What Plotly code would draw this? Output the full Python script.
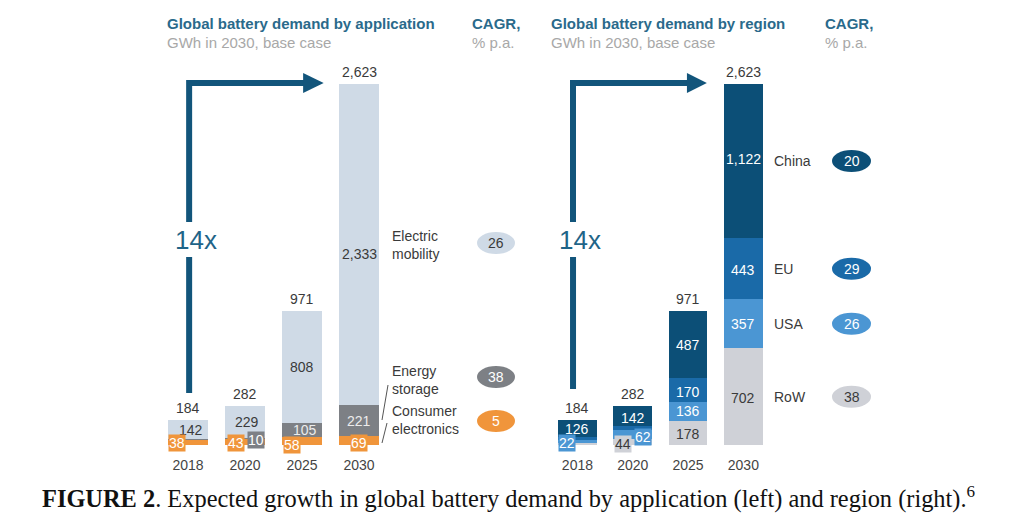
import plotly.graph_objects as go

# ---------------- data ----------------
years = ["2018", "2020", "2025", "2030"]
totals_app = [184, 282, 971, 2623]
totals_region = [184, 282, 971, 2623]

# Global battery demand by application, GWh
consumer_electronics = [38, 43, 58, 69]
energy_storage = [4, 10, 105, 221]
electric_mobility = [142, 229, 808, 2333]

# Global battery demand by region, GWh
row = [16, 44, 178, 702]
usa = [22, 62, 136, 357]
eu = [20, 34, 170, 443]
china = [126, 142, 487, 1122]

app_names = ["Consumer<br>electronics", "Energy<br>storage", "Electric<br>mobility"]
app_cagr = [5, 38, 26]
region_names = ["RoW", "USA", "EU", "China"]
region_cagr = [38, 26, 29, 20]
growth_text = "14x"

# ---------------- styles ----------------
W, H = 1024, 530
FONT = "Liberation Sans"
DARK = "#3a3a3a"
C_ORANGE = "#f0953b"
C_GRAY = "#7d8085"
C_LBLUE = "#cfdae6"
C_CHINA = "#0c4f77"
C_EU = "#1a6aa8"
C_USA = "#4b96d3"
C_ROW = "#cfd1d7"
C_ARROW = "#12557b"
C_TITLE = "#2a6a8b"
C_SUB = "#a8a8a8"
NUM = 14

BASE_PX = 445.0
SCALE = 361.0 / 2623.0  # px per GWh
YMAX = 3000
TOP_PX = BASE_PX - YMAX * SCALE


def px(x):
    return x / W


def py(y):
    return 1 - y / H


xs = list(range(len(years)))

fig = go.Figure()

left_series = [consumer_electronics, energy_storage, electric_mobility]
left_colors = [C_ORANGE, C_GRAY, C_LBLUE]
right_series = [row, usa, eu, china]
right_colors = [C_ROW, C_USA, C_EU, C_CHINA]

for vals, col in zip(left_series, left_colors):
    fig.add_trace(go.Bar(x=xs, y=vals, marker=dict(color=col, line=dict(width=0)),
                         xaxis="x", yaxis="y", showlegend=False, hoverinfo="skip"))
for vals, col in zip(right_series, right_colors):
    fig.add_trace(go.Bar(x=xs, y=vals, marker=dict(color=col, line=dict(width=0)),
                         xaxis="x2", yaxis="y2", showlegend=False, hoverinfo="skip"))

annotations = []
shapes = []


def seg_mid(series, k, i):
    return sum(s[i] for s in series[:k]) + series[k][i] / 2.0


def add_label(series, k, i, xref, yref, color, bg, xs_, ys_):
    a = dict(x=xs[i], y=seg_mid(series, k, i), xref=xref, yref=yref,
             text=f"{series[k][i]:,}", showarrow=False,
             font=dict(family=FONT, size=NUM, color=color),
             xshift=xs_, yshift=ys_, xanchor="center", yanchor="middle")
    if bg:
        a.update(bgcolor=bg, borderpad=0)
    annotations.append(a)


left_labels = {
    (2, 0): (DARK, None, 3, -1),
    (2, 1): (DARK, None, 2, 0),
    (2, 2): (DARK, None, 0, 0),
    (2, 3): (DARK, None, 0, -9),
    (1, 1): ("white", C_GRAY, 11, -2),
    (1, 2): ("#ececec", None, 3, 0),
    (1, 3): ("#ececec", None, 0, -1),
    (0, 0): ("white", C_ORANGE, -11, -1),
    (0, 1): ("white", C_ORANGE, -9, -1),
    (0, 2): ("white", C_ORANGE, -10, -4),
    (0, 3): ("white", C_ORANGE, 0, -3),
}
for (k, i), (c, bg, dx, dy) in left_labels.items():
    add_label(left_series, k, i, "x", "y", c, bg, dx, dy)

right_labels = {
    (3, 0): ("white", None, 0, -1),
    (3, 1): ("white", None, 0, -2),
    (3, 2): ("white", None, 0, 0),
    (3, 3): ("white", None, 0, 2),
    (2, 2): ("white", None, 0, -2),
    (2, 3): ("white", None, 0, -1),
    (1, 0): ("white", C_USA, -10, -2),
    (1, 1): ("white", C_USA, 10, -2),
    (1, 2): ("white", None, 0, 0),
    (1, 3): ("white", None, 0, 0),
    (0, 1): (DARK, C_ROW, -10, -2),
    (0, 2): (DARK, None, 0, -1),
    (0, 3): (DARK, None, 0, -1),
}
for (k, i), (c, bg, dx, dy) in right_labels.items():
    add_label(right_series, k, i, "x2", "y2", c, bg, dx, dy)

# totals above bars
for i in xs:
    annotations.append(dict(x=xs[i], y=totals_app[i], xref="x", yref="y", text=f"{totals_app[i]:,}",
                            showarrow=False, yanchor="bottom", yshift=2,
                            font=dict(family=FONT, size=NUM, color=DARK)))
    annotations.append(dict(x=xs[i], y=totals_region[i], xref="x2", yref="y2", text=f"{totals_region[i]:,}",
                            showarrow=False, yanchor="bottom", yshift=2,
                            font=dict(family=FONT, size=NUM, color=DARK)))

# titles
for xp, title in [(165, "Global battery demand by application"), (549, "Global battery demand by region")]:
    annotations.append(dict(x=px(xp), y=py(24), xref="paper", yref="paper", text=f"<b>{title}</b>",
                            showarrow=False, xanchor="left", yanchor="middle",
                            font=dict(family=FONT, size=15, color=C_TITLE)))
    annotations.append(dict(x=px(xp), y=py(43), xref="paper", yref="paper", text="GWh in 2030, base case",
                            showarrow=False, xanchor="left", yanchor="middle",
                            font=dict(family=FONT, size=15, color=C_SUB)))
for xp in [470, 823]:
    annotations.append(dict(x=px(xp), y=py(24), xref="paper", yref="paper", text="<b>CAGR,</b>",
                            showarrow=False, xanchor="left", yanchor="middle",
                            font=dict(family=FONT, size=15, color=C_TITLE)))
    annotations.append(dict(x=px(xp), y=py(43), xref="paper", yref="paper", text="% p.a.",
                            showarrow=False, xanchor="left", yanchor="middle",
                            font=dict(family=FONT, size=15, color=C_SUB)))

# left legend labels and CAGR bubbles
app_label_y = [420, 380, 245]
app_bubble_y = [421, 377, 243]
app_bubble_style = [(C_ORANGE, "white"), (C_GRAY, "white"), (C_LBLUE, DARK)]
for name, yl, yb, cg, (bg, fc) in zip(app_names, app_label_y, app_bubble_y, app_cagr, app_bubble_style):
    annotations.append(dict(x=px(390), y=py(yl), xref="paper", yref="paper", text=name,
                            showarrow=False, xanchor="left", yanchor="middle", align="left",
                            font=dict(family=FONT, size=14, color=DARK)))
    shapes.append(dict(type="circle", xref="paper", yref="paper",
                       x0=px(477), x1=px(515), y0=py(yb - 11), y1=py(yb + 11),
                       fillcolor=bg, line=dict(width=0), layer="above"))
    annotations.append(dict(x=px(496), y=py(yb), xref="paper", yref="paper", text=str(cg),
                            showarrow=False, xanchor="center", yanchor="middle",
                            font=dict(family=FONT, size=NUM, color=fc)))

# leader slashes
for (x0, y0, x1, y1) in [(388, 385, 382, 420), (387, 423, 382, 443)]:
    shapes.append(dict(type="line", xref="paper", yref="paper", x0=px(x0), y0=py(y0),
                       x1=px(x1), y1=py(y1), line=dict(color="#555555", width=1)))

# right legend labels and CAGR bubbles (aligned to 2030 segments)
region_bubble_style = [(C_ROW, DARK), (C_USA, "white"), (C_EU, "white"), (C_CHINA, "white")]
for k, (name, cg, (bg, fc)) in enumerate(zip(region_names, region_cagr, region_bubble_style)):
    ym = seg_mid(right_series, k, 3)
    annotations.append(dict(x=px(772), y=ym, xref="paper", yref="y2", text=name,
                            showarrow=False, xanchor="left", yanchor="middle",
                            font=dict(family=FONT, size=14, color=DARK)))
    shapes.append(dict(type="circle", xref="paper", yref="y2", ysizemode="pixel", yanchor=ym,
                       x0=px(832), x1=px(871), y0=-11, y1=11,
                       fillcolor=bg, line=dict(width=0), layer="above"))
    annotations.append(dict(x=px(851.5), y=ym, xref="paper", yref="y2", text=str(cg),
                            showarrow=False, xanchor="center", yanchor="middle",
                            font=dict(family=FONT, size=NUM, color=fc)))


def gwh(p):
    return (BASE_PX - p) / SCALE


# growth arrows
for xr, yr, xv, x_base, x_tip, y_bottom_px, text_dx in [
        ("x", "y", 0.02, 2.02, 2.38, 393, 7), ("x2", "y2", -0.08, 1.98, 2.34, 389, 7)]:
    ytop = gwh(83)
    shapes.append(dict(type="path", xref=xr, yref=yr,
                       path=f"M {xv},{gwh(y_bottom_px)} L {xv},{gwh(257)}",
                       line=dict(color=C_ARROW, width=6)))
    shapes.append(dict(type="path", xref=xr, yref=yr,
                       path=f"M {xv},{gwh(222)} L {xv},{ytop} L {x_base + 0.05},{ytop}",
                       line=dict(color=C_ARROW, width=6)))
    shapes.append(dict(type="path", xref=xr, yref=yr,
                       path=f"M {x_base},{ytop + 10 / SCALE} L {x_tip},{ytop} L {x_base},{ytop - 10 / SCALE} Z",
                       fillcolor=C_ARROW, line=dict(width=0)))
    annotations.append(dict(x=xv, y=gwh(240), xref=xr, yref=yr, text=growth_text, showarrow=False,
                            xshift=text_dx, xanchor="center", yanchor="middle",
                            font=dict(family=FONT, size=26, color="#1f6488")))

# caption
annotations.append(dict(x=px(40), y=py(497), xref="paper", yref="paper",
                        text="<b>FIGURE 2</b>. Expected growth in global battery demand by application (left) and region (right).<sup>6</sup>",
                        showarrow=False, xanchor="left", yanchor="middle",
                        font=dict(family="Liberation Serif", size=24.4, color="#111111")))

axis_x = dict(tickvals=xs, ticktext=years, range=[-0.5, 3.5], showgrid=False, zeroline=False,
              showline=False, ticks="outside", ticklen=7, tickcolor="rgba(0,0,0,0)",
              tickfont=dict(family=FONT, size=14, color="#444444"), fixedrange=True)
axis_y = dict(range=[0, YMAX], visible=False, domain=[py(BASE_PX), py(TOP_PX)], fixedrange=True)

fig.update_layout(
    width=W, height=H, margin=dict(l=0, r=0, t=0, b=0),
    paper_bgcolor="white", plot_bgcolor="rgba(0,0,0,0)",
    barmode="stack", bargap=0.3,
    xaxis=dict(axis_x, domain=[px(159.5), px(387.5)], anchor="y"),
    yaxis=dict(axis_y, anchor="x"),
    xaxis2=dict(axis_x, domain=[px(549.8), px(771)], anchor="y2"),
    yaxis2=dict(axis_y, anchor="x2"),
    annotations=annotations, shapes=shapes, showlegend=False,
)

fig.write_html("out.html", config={"displayModeBar": False},
               post_script="document.body.style.margin='0';")
